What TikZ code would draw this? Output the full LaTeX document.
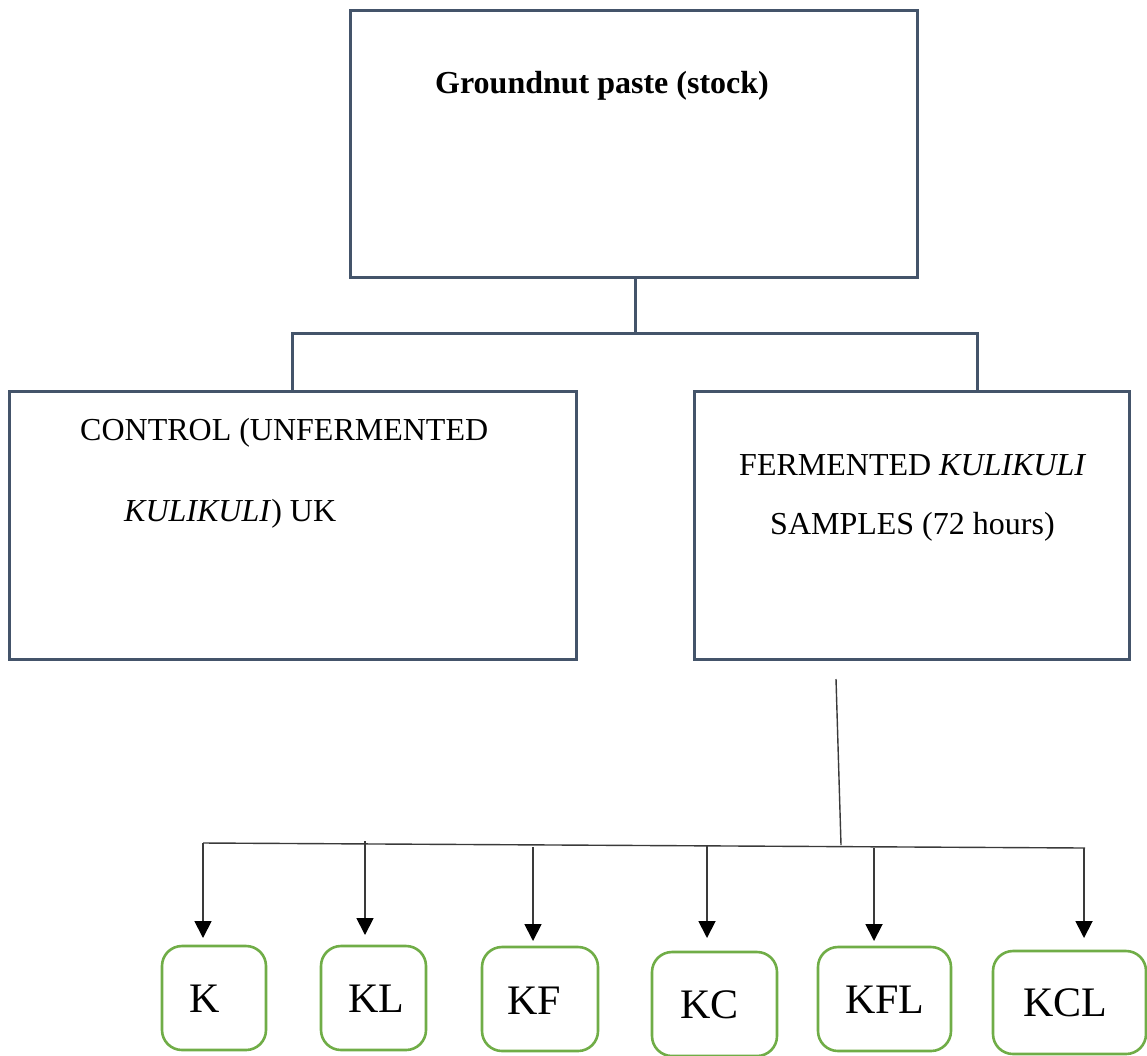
\documentclass[tikz,border=0pt]{standalone}
\usepackage{fontspec}
\setmainfont{Liberation Serif}
\usetikzlibrary{arrows.meta}
\definecolor{slate}{HTML}{44546A}
\definecolor{leaf}{HTML}{70AD47}
\definecolor{ink}{HTML}{3A3A3A}
\tikzset{
  bigbox/.style={draw=slate, line width=3pt, rectangle, inner sep=0pt},
  samplebox/.style={draw=leaf, line width=2.6pt, rectangle, rounded corners=20pt, inner sep=0pt},
  bracket/.style={draw=slate, line width=3pt},
  thinline/.style={draw=ink, line width=1.4pt},
  arrowline/.style={draw=ink, line width=1.8pt, -{Triangle[length=17pt,width=17pt,color=black]}},
  txt/.style={inner sep=0pt, anchor=base west, font=\fontsize{32}{38}\selectfont},
  boldtxt/.style={inner sep=0pt, anchor=base west, font=\fontsize{32}{38}\selectfont\bfseries},
  codetxt/.style={inner sep=0pt, anchor=base west, font=\fontsize{42}{48}\selectfont},
}
\begin{document}
\begin{tikzpicture}[x=1pt,y=-1pt]
\useasboundingbox (0,0) rectangle (1147,1055);
% main boxes
\node[bigbox, minimum width=567pt, minimum height=267pt] (top) at (633.5,143.5) {};
\node[bigbox, minimum width=567pt, minimum height=268pt] (ctrl) at (292.5,525) {};
\node[bigbox, minimum width=435pt, minimum height=268pt] (ferm) at (911.5,525) {};
% texts
\node[boldtxt] (toptxt) at (435,93) {Groundnut paste (stock)};
\node[txt] (ctrl1) at (80,440) {CONTROL (UNFERMENTED};
\node[txt] (ctrl2) at (124,521) {\textit{KULIKULI}) UK};
\node[txt] (ferm1) at (739,475) {FERMENTED \textit{KULIKULI}};
\node[txt] (ferm2) at (770,534) {SAMPLES (72 hours)};
% bracket
\coordinate (bmid) at (635,333);
\coordinate (bl) at (292,333);
\coordinate (br) at (977,333);
\draw[bracket] (top.south -| bmid) -- (bmid);
\draw[bracket, line cap=rect] (bl) -- (br);
\draw[bracket] (bl) -- (bl |- ctrl.north);
\draw[bracket] (br) -- (br |- ferm.north);
% sample boxes
\node[samplebox, minimum width=104pt, minimum height=104pt] (K) at (214,998) {};
\node[samplebox, minimum width=105pt, minimum height=104pt] (KL) at (373.5,998) {};
\node[samplebox, minimum width=116pt, minimum height=104pt] (KF) at (540,999) {};
\node[samplebox, minimum width=125pt, minimum height=104pt] (KC) at (714.5,1004) {};
\node[samplebox, minimum width=133pt, minimum height=104pt] (KFL) at (884.5,999) {};
\node[samplebox, minimum width=153pt, minimum height=103pt] (KCL) at (1069.5,1002.5) {};
\node[codetxt] (tK) at (189,1012) {K};
\node[codetxt] (tKL) at (348,1012) {KL};
\node[codetxt] (tKF) at (507,1014) {KF};
\node[codetxt] (tKC) at (680,1018) {KC};
\node[codetxt] (tKFL) at (845,1013) {KFL};
\node[codetxt] (tKCL) at (1023,1016) {KCL};
% lower connectors
\coordinate (stemtop) at (836,679);
\coordinate (stembot) at (841,845);
\coordinate (hl) at (203,843);
\coordinate (hr) at (1085,848);
\draw[thinline] (stemtop) -- (stembot);
\draw[thinline] (hl) -- (hr);
\coordinate (aK) at (203,843);   \coordinate (eK) at (203,938);
\coordinate (aKL) at (365,841);  \coordinate (eKL) at (365,935);
\coordinate (aKF) at (533,847);  \coordinate (eKF) at (533,941);
\coordinate (aKC) at (707,846);  \coordinate (eKC) at (707,938);
\coordinate (aKFL) at (874,848); \coordinate (eKFL) at (874,941);
\coordinate (aKCL) at (1084,848);\coordinate (eKCL) at (1084,938);
\draw[arrowline] (aK) -- (eK);
\draw[arrowline] (aKL) -- (eKL);
\draw[arrowline] (aKF) -- (eKF);
\draw[arrowline] (aKC) -- (eKC);
\draw[arrowline] (aKFL) -- (eKFL);
\draw[arrowline] (aKCL) -- (eKCL);
\end{tikzpicture}
\end{document}
